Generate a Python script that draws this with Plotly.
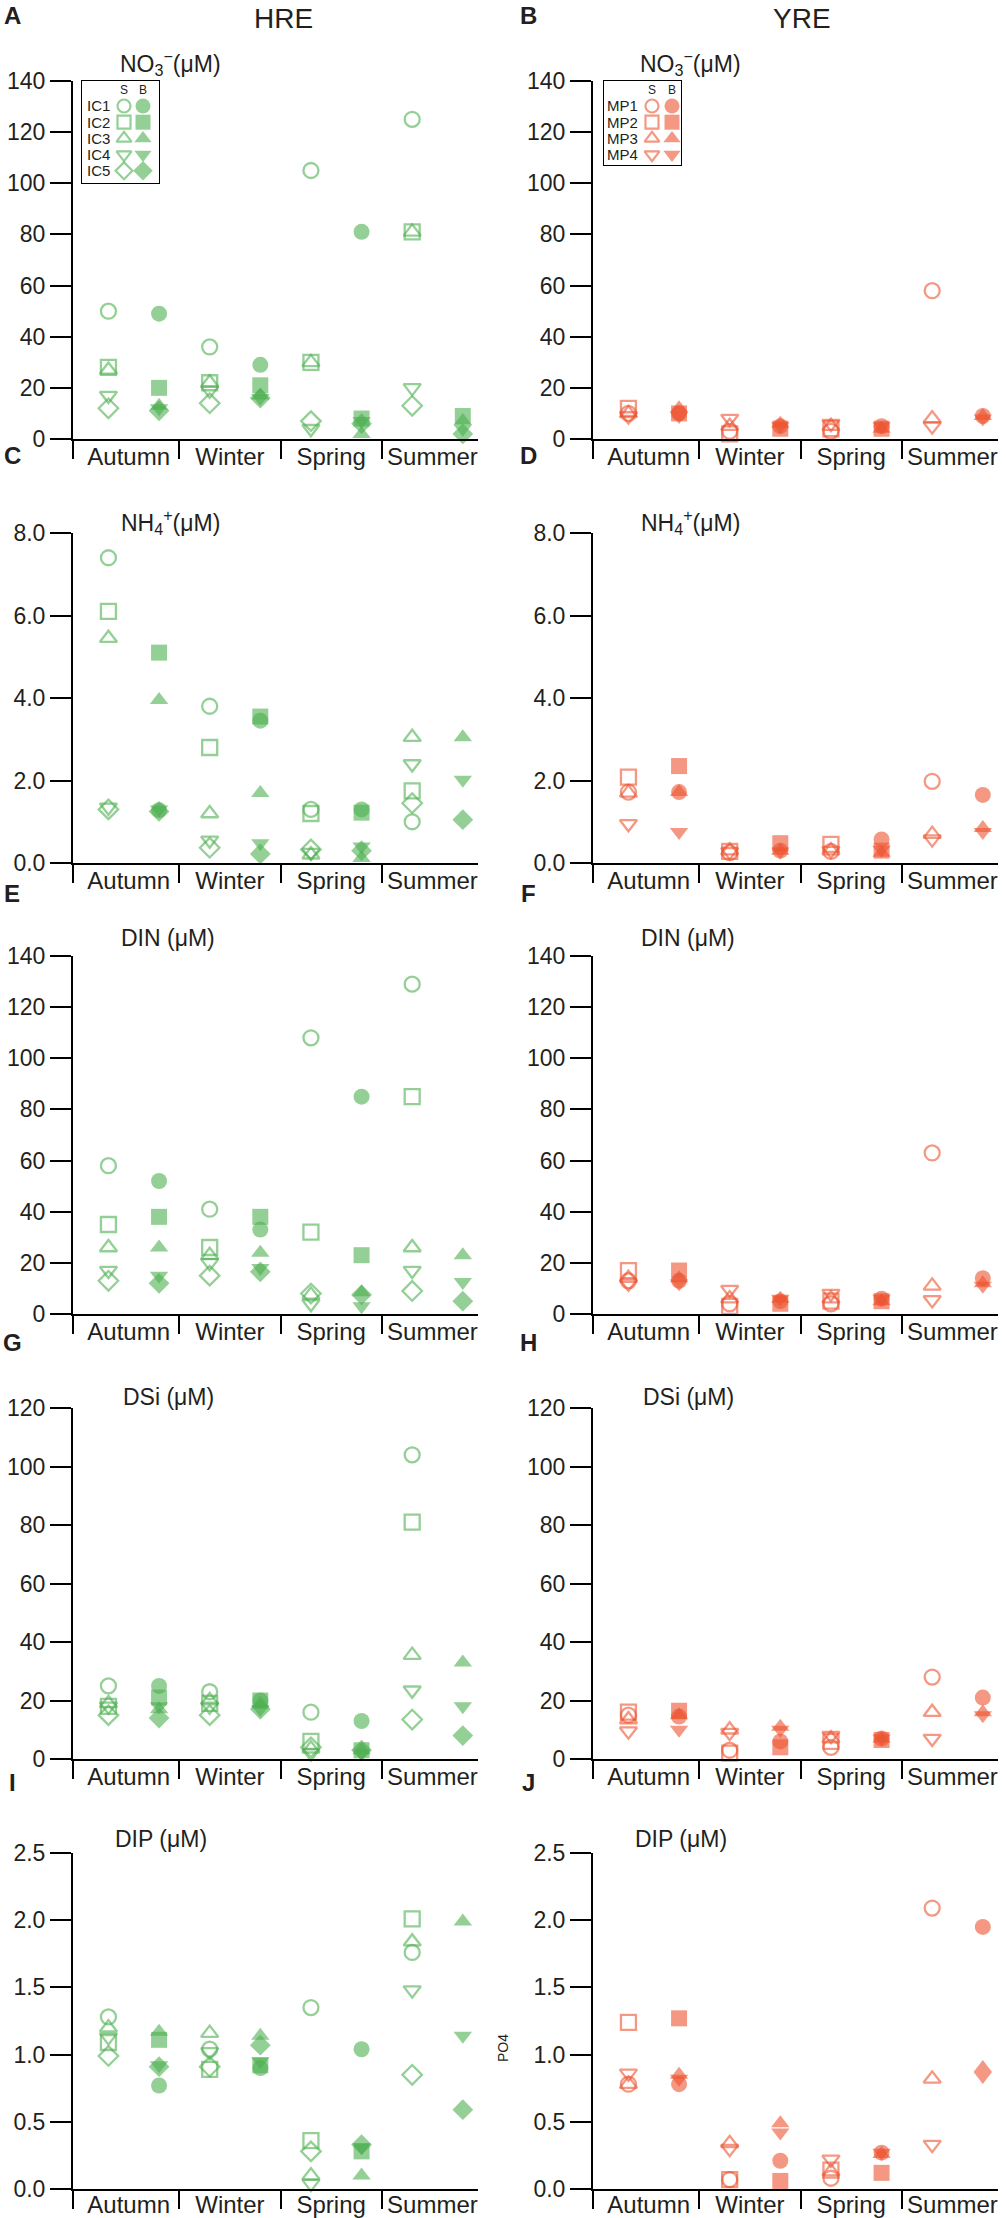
import plotly.graph_objects as go

seasons = ["Autumn", "Winter", "Spring", "Summer"]
layers = ["S", "B"]
hre_stations = ["IC1", "IC2", "IC3", "IC4", "IC5"]
yre_stations = ["MP1", "MP2", "MP3", "MP4"]
station_symbols = ["circle", "square", "triangle-up", "triangle-down", "diamond"]

# one row per station, values in the order
# Autumn S, Autumn B, Winter S, Winter B, Spring S, Spring B, Summer S, Summer B
no3_hre = [
    [50, 49, 36, 29, 105, 81, 125, None],
    [28, 20, 22, 21, 30, 8, 81, 9],
    [27, 13, 22, 17, 30, 2, 81, 7],
    [17, 12, 19, 16, 4, 7, 20, 4],
    [12, 11, 14, 16, 7, 6, 13, 2],
]
no3_yre = [
    [10, 10, 3, 5, 3, 5, 58, 9],
    [12, 10, 2, 4, 4, 4, None, None],
    [10, 12, 5, 6, 5, 4, 8, 9],
    [9, 9, 8, 5, 6, 5, 5, 8],
]
nh4_hre = [
    [7.4, 1.28, 3.8, 3.45, 1.3, 1.3, 1.0, None],
    [6.1, 5.1, 2.8, 3.55, 1.2, 1.22, 1.75, None],
    [5.45, 3.95, 1.2, 1.7, 0.2, 0.12, 3.05, 3.05],
    [1.35, 1.3, 0.55, 0.48, 0.25, 0.4, 2.4, 2.02],
    [1.3, 1.25, 0.37, 0.22, 0.33, 0.3, 1.45, 1.05],
]
nh4_yre = [
    [1.72, 1.72, 0.25, 0.3, 0.28, 0.57, 1.98, 1.65],
    [2.08, 2.35, 0.28, 0.48, 0.45, 0.3, None, None],
    [1.7, 1.72, 0.3, 0.3, 0.3, 0.25, 0.7, 0.85],
    [0.95, 0.75, 0.27, 0.28, 0.3, 0.32, 0.58, 0.75],
]
din_hre = [
    [58, 52, 41, 33, 108, 85, 129, None],
    [35, 38, 26, 38, 32, 23, 85, None],
    [26, 26, 23, 24, 7.5, 8.5, 26, 23],
    [17, 15, 20, 18, 4, 3, 17, 12.5],
    [13, 12, 15, 16.5, 8, 7.5, 9, 5],
]
din_yre = [
    [13, 13, 4, 5, 4, 6, 63, 14],
    [17, 17, 3, 4, 5, 5, None, None],
    [14, 14, 6, 6, 6, 5, 11, 12],
    [12, 12, 9.5, 6, 8, 6, 5.5, 11],
]
dsi_hre = [
    [25, 25, 23, 20, 16, 13, 104, None],
    [18, 21, 19, 20, 6, 3, 81, None],
    [19, 17, 20, 19, 3.5, 3, 35.5, 33],
    [18, 18, 18, 17, 2, 2, 23.5, 18],
    [15, 14, 15, 17, 4, 3, 13.5, 8],
]
dsi_yre = [
    [15, 14.5, 3, 6, 4, 7, 28, 21],
    [16, 16.5, 2, 4, 6, 6.5, None, None],
    [13.5, 15, 10, 11, 7, 7, 16, 16],
    [9.5, 10, 9, 10, 8, 7, 7, 15],
]
dip_hre = [
    [1.28, 0.77, 1.04, 0.9, 1.35, 1.04, 1.76, None],
    [1.09, 1.11, 0.89, 0.92, 0.36, 0.28, 2.01, None],
    [1.2, 1.17, 1.16, 1.14, 0.1, 0.1, 1.84, 1.99],
    [1.13, 0.92, 1.02, 0.95, 0.04, 0.31, 1.48, 1.14],
    [0.99, 0.91, 0.91, 1.07, 0.28, 0.33, 0.85, 0.59],
]
dip_yre = [
    [0.78, 0.78, 0.07, 0.21, 0.08, 0.27, 2.09, 1.95],
    [1.24, 1.27, 0.07, 0.06, 0.14, 0.12, None, None],
    [0.78, 0.85, 0.34, 0.49, 0.13, 0.26, 0.82, 0.9],
    [0.86, 0.82, 0.3, 0.42, 0.22, 0.27, 0.33, 0.84],
]

hre_color = "rgb(76,175,80)"
yre_color = "rgb(236,84,48)"
ink = "#231f20"
font = "Liberation Sans, Arial, sans-serif"

W, H = 1006, 2218

def fx(p):
    return p / W

def fy(p):
    return 1 - p / H

# panel: letter, data, stations, colour, ymax, dtick, tick format, title
panels = [
    ("A", no3_hre, hre_stations, hre_color, 140, 20, "d", "NO<sub>3</sub><sup>−</sup>(μM)"),
    ("B", no3_yre, yre_stations, yre_color, 140, 20, "d", "NO<sub>3</sub><sup>−</sup>(μM)"),
    ("C", nh4_hre, hre_stations, hre_color, 8, 2, ".1f", "NH<sub>4</sub><sup>+</sup>(μM)"),
    ("D", nh4_yre, yre_stations, yre_color, 8, 2, ".1f", "NH<sub>4</sub><sup>+</sup>(μM)"),
    ("E", din_hre, hre_stations, hre_color, 140, 20, "d", "DIN (μM)"),
    ("F", din_yre, yre_stations, yre_color, 140, 20, "d", "DIN (μM)"),
    ("G", dsi_hre, hre_stations, hre_color, 120, 20, "d", "DSi (μM)"),
    ("H", dsi_yre, yre_stations, yre_color, 120, 20, "d", "DSi (μM)"),
    ("I", dip_hre, hre_stations, hre_color, 2.5, 0.5, ".1f", "DIP (μM)"),
    ("J", dip_yre, yre_stations, yre_color, 2.5, 0.5, ".1f", "DIP (μM)"),
]

# pixel geometry of the page
col_px = [(73, 478), (593, 998)]
row_px = [(81, 439), (533, 863), (956, 1314), (1408, 1759), (1853, 2189)]
title_y = [63, 522, 938, 1397, 1839]
title_dx = [97, 97, 95, 95, 88]
letter_y = [15, 455, 893, 1342, 1782]
letter_x = [12, 528]
label_standoff = [-5, -5, -5, -5, -7]

xpos = [si * 2 + li + 1 for si in range(len(seasons)) for li in range(len(layers))]
layer_of = [layers[li] for si in range(len(seasons)) for li in range(len(layers))]
season_mid = [si * 2 + 1.4 for si in range(len(seasons))]
season_edge = [0.3] + [si * 2 + 0.4 for si in range(1, len(seasons))]


def note(text, x, y, size, xref="paper", yref="paper", xanchor="center", angle=0):
    return dict(text=text, x=x, y=y, xref=xref, yref=yref, showarrow=False,
                xanchor=xanchor, yanchor="middle", textangle=angle,
                font=dict(size=size, color=ink, family=font))


fig = go.Figure()
ann = []
lay = {}

for k, (letter, data, stations, color, ymax, dtick, fmt, title) in enumerate(panels):
    row, col = k // 2, k % 2
    n = k + 1
    xa = "xaxis" if n == 1 else f"xaxis{n}"
    ya = "yaxis" if n == 1 else f"yaxis{n}"
    xr = "x" if n == 1 else f"x{n}"
    yr = "y" if n == 1 else f"y{n}"
    x0, x1 = col_px[col]
    y0, y1 = row_px[row]

    for si, st in enumerate(stations):
        sym = station_symbols[si]
        fig.add_trace(go.Scatter(
            x=xpos, y=data[si], xaxis=xr, yaxis=yr, mode="markers",
            name=st, showlegend=False, cliponaxis=False,
            marker=dict(
                color=color, opacity=0.6,
                symbol=[sym + "-open" if l == "S" else sym for l in layer_of],
                size=[15 if l == "S" else 16 for l in layer_of],
                line=dict(color=color, width=[2.3 if l == "S" else 0 for l in layer_of]),
            ),
        ))

    lay[xa] = dict(
        domain=[fx(x0), fx(x1)], anchor=yr, range=[0.3, 8.3],
        showline=True, linecolor="black", linewidth=2, showgrid=False, zeroline=False,
        tickmode="array", tickvals=season_mid, ticktext=seasons, ticks="",
        ticklabelstandoff=label_standoff[row],
        tickfont=dict(size=24, color=ink, family=font), automargin=False,
        minor=dict(tickvals=season_edge, ticks="outside", ticklen=18, tickwidth=2,
                   tickcolor="black", showgrid=False),
        fixedrange=True,
    )
    lay[ya] = dict(
        domain=[fy(y1), fy(y0)], anchor=xr, range=[0, ymax],
        showline=True, linecolor="black", linewidth=2, showgrid=False, zeroline=False,
        tickmode="linear", tick0=0, dtick=dtick, tickformat=fmt,
        ticks="outside", ticklen=21, tickwidth=2, tickcolor="black",
        tickfont=dict(size=23, color=ink, family=font), automargin=False,
        fixedrange=True,
    )

    ann.append(note(title, fx(x0 + title_dx[row]), fy(title_y[row]), 23))
    ann.append(note("<b>" + letter + "</b>", fx(letter_x[col]), fy(letter_y[row]), 24))

# column headings
ann.append(note("HRE", fx(283), fy(19), 28))
ann.append(note("YRE", fx(802), fy(19), 28))
ann.append(note("PO4", fx(503), fy(2048), 14, angle=-90))

# symbol keys in panels A and B
keys = [
    (hre_stations, hre_color, (82, 159, 81, 183), 124, 19),
    (yre_stations, yre_color, (604, 681, 81, 165), 652, 20),
]
first_row_px, row_step = 106, 16.2
for j, (stations, color, box, col1_px, col_step) in enumerate(keys):
    n = 11 + j
    bl, br, bt, bb = box
    xr, yr = f"x{n}", f"y{n}"
    lay[f"xaxis{n}"] = dict(
        domain=[fx(bl), fx(br)], anchor=yr,
        range=[1 + (bl - col1_px) / col_step, 1 + (br - col1_px) / col_step],
        showline=True, mirror=True, linecolor="black", linewidth=1.3,
        showgrid=False, zeroline=False, showticklabels=False, ticks="", fixedrange=True,
    )
    lay[f"yaxis{n}"] = dict(
        domain=[fy(bb), fy(bt)], anchor=xr,
        range=[1 + (bb - first_row_px) / row_step, 1 + (bt - first_row_px) / row_step],
        showline=True, mirror=True, linecolor="black", linewidth=1.3,
        showgrid=False, zeroline=False, showticklabels=False, ticks="", fixedrange=True,
    )
    for si, st in enumerate(stations):
        sym = station_symbols[si]
        fig.add_trace(go.Scatter(
            x=[1, 2], y=[si + 1, si + 1], xaxis=xr, yaxis=yr, mode="markers",
            showlegend=False, cliponaxis=False,
            marker=dict(color=color, opacity=0.6, symbol=[sym + "-open", sym],
                        size=[13, 15], line=dict(color=color, width=[2.2, 0])),
        ))
        ann.append(note(st, 1 - 0.62, si + 1, 15, xref=xr, yref=yr, xanchor="right"))
    for li, l in enumerate(layers):
        ann.append(note(l, li + 1, 0, 12, xref=xr, yref=yr))

fig.update_layout(
    width=W, height=H, template="none",
    margin=dict(l=0, r=0, t=0, b=0),
    paper_bgcolor="white", plot_bgcolor="rgba(0,0,0,0)",
    showlegend=False, annotations=ann,
    font=dict(family=font, color=ink),
    **lay,
)

fig.write_html("out.html", config={"displayModeBar": False},
               post_script="document.body.style.margin='0';")
